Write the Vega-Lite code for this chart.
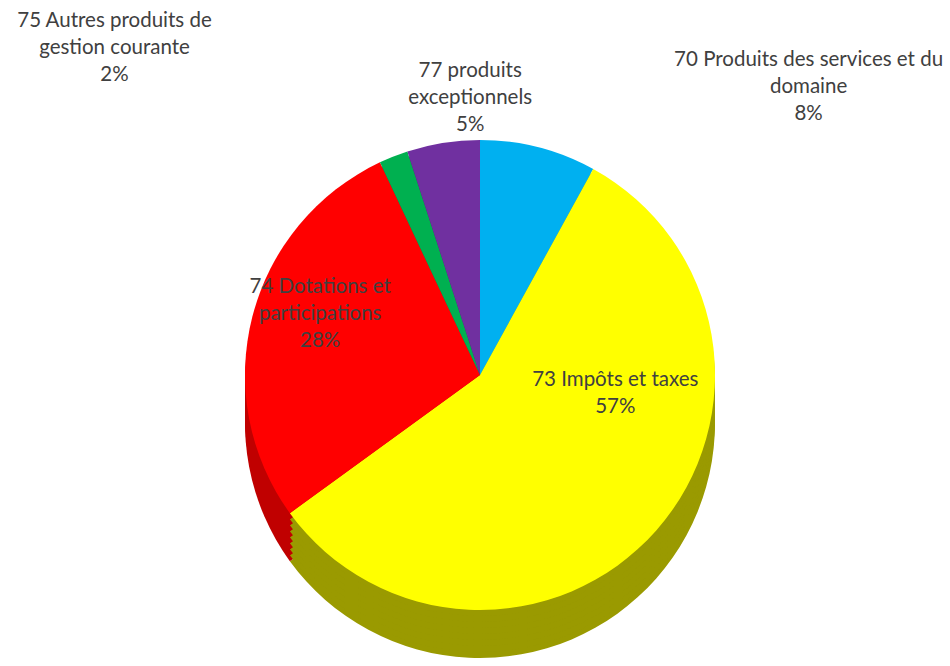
{
  "$schema": "https://vega.github.io/schema/vega-lite/v6.json",
  "width": 950,
  "height": 666,
  "autosize": "none",
  "padding": 0,
  "background": "white",
  "view": {"stroke": null},
  "config": {"text": {"font": "Lato", "fontSize": 20.5, "color": "#404040", "lineHeight": 27}},
  "data": {"values": [
    {"code": "70", "order": 1, "pct": 8, "label": ["70 Produits des services et du", "domaine", "8%"]},
    {"code": "73", "order": 2, "pct": 57, "label": ["73 Impôts et taxes", "57%"]},
    {"code": "74", "order": 3, "pct": 28, "label": ["74 Dotations et", "participations", "28%"]},
    {"code": "75", "order": 4, "pct": 2, "label": ["75 Autres produits de", "gestion courante", "2%"]},
    {"code": "77", "order": 5, "pct": 5, "label": ["77 produits", "exceptionnels", "5%"]}
  ]},
  "encoding": {
    "theta": {"field": "pct", "type": "quantitative", "stack": true},
    "order": {"field": "order", "type": "quantitative"}
  },
  "layer": [
    {"mark": {"type": "arc", "outerRadius": 235},
     "encoding": {"x": {"value": 480}, "y": {"value": 423},
       "color": {"field": "code", "type": "nominal", "legend": null,
         "scale": {"domain": ["70", "73", "74", "75", "77"], "range": ["#0080B0", "#9A9A00", "#C00000", "#007A3A", "#4E2070"]}}}},
    {"mark": {"type": "arc", "outerRadius": 235},
     "encoding": {"x": {"value": 480}, "y": {"value": 417},
       "color": {"field": "code", "type": "nominal", "legend": null,
         "scale": {"domain": ["70", "73", "74", "75", "77"], "range": ["#0080B0", "#9A9A00", "#C00000", "#007A3A", "#4E2070"]}}}},
    {"mark": {"type": "arc", "outerRadius": 235},
     "encoding": {"x": {"value": 480}, "y": {"value": 411},
       "color": {"field": "code", "type": "nominal", "legend": null,
         "scale": {"domain": ["70", "73", "74", "75", "77"], "range": ["#0080B0", "#9A9A00", "#C00000", "#007A3A", "#4E2070"]}}}},
    {"mark": {"type": "arc", "outerRadius": 235},
     "encoding": {"x": {"value": 480}, "y": {"value": 405},
       "color": {"field": "code", "type": "nominal", "legend": null,
         "scale": {"domain": ["70", "73", "74", "75", "77"], "range": ["#0080B0", "#9A9A00", "#C00000", "#007A3A", "#4E2070"]}}}},
    {"mark": {"type": "arc", "outerRadius": 235},
     "encoding": {"x": {"value": 480}, "y": {"value": 399},
       "color": {"field": "code", "type": "nominal", "legend": null,
         "scale": {"domain": ["70", "73", "74", "75", "77"], "range": ["#0080B0", "#9A9A00", "#C00000", "#007A3A", "#4E2070"]}}}},
    {"mark": {"type": "arc", "outerRadius": 235},
     "encoding": {"x": {"value": 480}, "y": {"value": 393},
       "color": {"field": "code", "type": "nominal", "legend": null,
         "scale": {"domain": ["70", "73", "74", "75", "77"], "range": ["#0080B0", "#9A9A00", "#C00000", "#007A3A", "#4E2070"]}}}},
    {"mark": {"type": "arc", "outerRadius": 235},
     "encoding": {"x": {"value": 480}, "y": {"value": 387},
       "color": {"field": "code", "type": "nominal", "legend": null,
         "scale": {"domain": ["70", "73", "74", "75", "77"], "range": ["#0080B0", "#9A9A00", "#C00000", "#007A3A", "#4E2070"]}}}},
    {"mark": {"type": "arc", "outerRadius": 235},
     "encoding": {"x": {"value": 480}, "y": {"value": 381},
       "color": {"field": "code", "type": "nominal", "legend": null,
         "scale": {"domain": ["70", "73", "74", "75", "77"], "range": ["#0080B0", "#9A9A00", "#C00000", "#007A3A", "#4E2070"]}}}},
    {"mark": {"type": "arc", "outerRadius": 235},
     "encoding": {"x": {"value": 480}, "y": {"value": 375},
       "color": {"field": "code", "type": "nominal", "legend": null,
         "scale": {"domain": ["70", "73", "74", "75", "77"], "range": ["#00B0F0", "#FFFF00", "#FF0000", "#00B050", "#7030A0"]}}}},
    {"mark": {"type": "text", "radius": 300, "dx": 254, "dy": -24},
     "encoding": {"x": {"value": 480}, "y": {"value": 375},
       "text": {"condition": {"test": "datum.code == '70'", "field": "label"}, "value": ""}}},
    {"mark": {"type": "text", "radius": 135, "dx": 34, "dy": -84},
     "encoding": {"x": {"value": 480}, "y": {"value": 375},
       "text": {"condition": {"test": "datum.code == '73'", "field": "label"}, "value": ""}}},
    {"mark": {"type": "text", "radius": 165, "dy": -47},
     "encoding": {"x": {"value": 480}, "y": {"value": 375},
       "text": {"condition": {"test": "datum.code == '74'", "field": "label"}, "value": ""}}},
    {"mark": {"type": "text", "radius": 330, "dx": -244, "dy": -47},
     "encoding": {"x": {"value": 480}, "y": {"value": 375},
       "text": {"condition": {"test": "datum.code == '75'", "field": "label"}, "value": ""}}},
    {"mark": {"type": "text", "radius": 280, "dx": 34, "dy": -27},
     "encoding": {"x": {"value": 480}, "y": {"value": 375},
       "text": {"condition": {"test": "datum.code == '77'", "field": "label"}, "value": ""}}}
  ],
  "resolve": {"scale": {"color": "independent"}}
}
